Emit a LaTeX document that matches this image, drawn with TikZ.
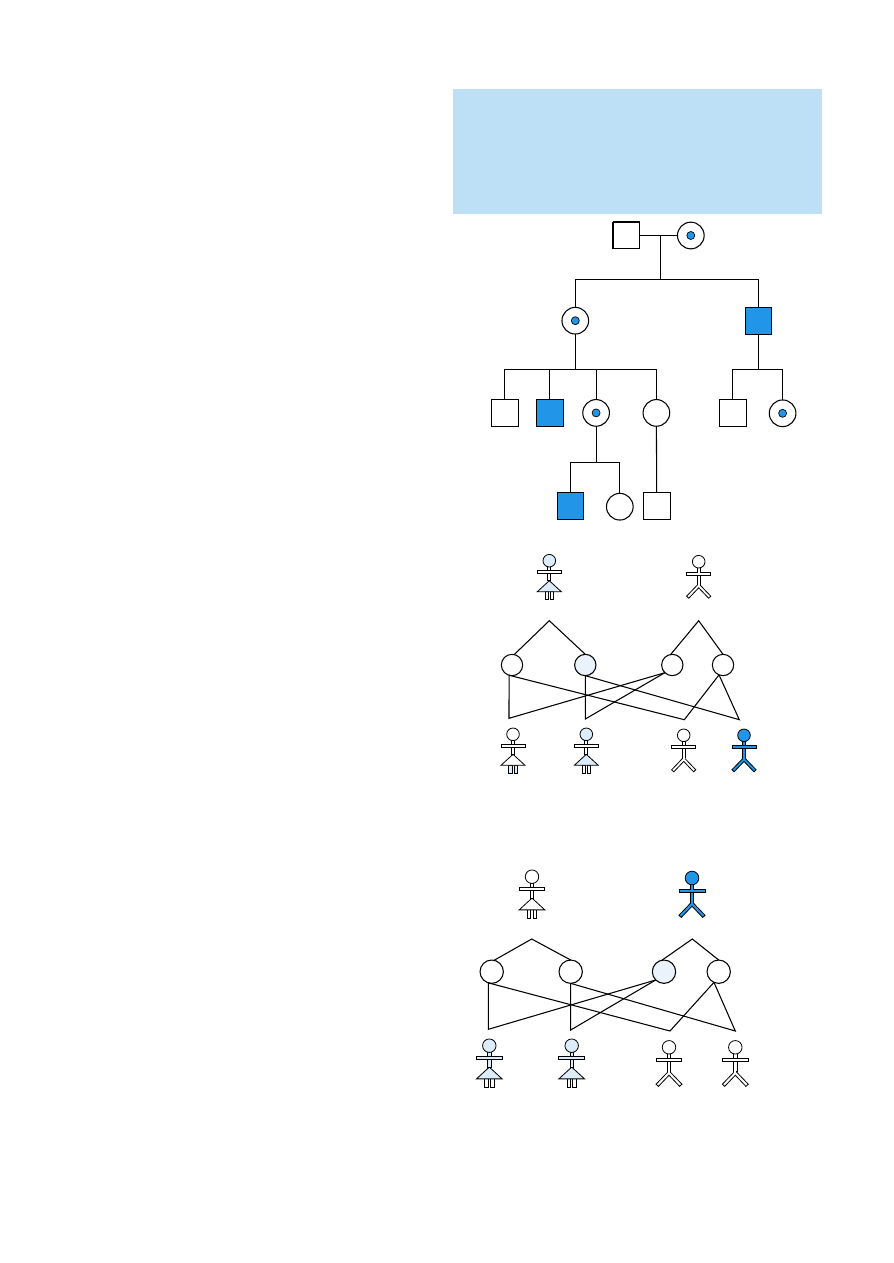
\documentclass[tikz,border=0pt]{standalone}
\definecolor{panelblue}{HTML}{BEE0F7}
\definecolor{geneblue}{HTML}{2196E8}
\definecolor{paleblue}{HTML}{DDECFA}
\definecolor{paleallele}{HTML}{EAF3FB}
\tikzset{
  lin/.style={line width=0.8pt,line join=miter},
  figlin/.style={line width=0.6pt,line join=miter},
  male/.style={draw,lin,rectangle,minimum size=20pt,inner sep=0pt,outer sep=0pt,fill=white},
  female/.style={draw,lin,circle,minimum size=20pt,inner sep=0pt,outer sep=0pt,fill=white},
  carrierdot/.style={draw,line width=0.5pt,circle,minimum size=6pt,inner sep=0pt,fill=geneblue},
  allele/.style={draw,lin,circle,inner sep=0pt,outer sep=0pt,fill=white},
  allelea/.style={allele,minimum size=16pt},
  alleleb/.style={allele,minimum size=17.5pt}
}
% girl figure: x, y, scale, head and skirt, arms and body, legs
\newcommand{\girlfig}[6]{
  \begin{scope}[shift={(#1,#2)},scale=#3]
    \draw[figlin,fill=#6] (-4.3,31) rectangle (-1.1,39);
    \draw[figlin,fill=#6] (1.1,31) rectangle (4.3,39);
    \draw[figlin,fill=#4] (-12,31) -- (0,20) -- (12,31) -- cycle;
    \draw[figlin,fill=#5] (-1.5,5) rectangle (1.5,20);
    \draw[figlin,fill=#5] (-12,10.1) rectangle (12,13.1);
    \fill[#5] (-1.1,10.5) rectangle (1.1,12.7);
    \draw[figlin,fill=#4] (0,0) circle (6.3);
  \end{scope}}
% boy figure: x, y, scale, colour
\newcommand{\boyfig}[4]{
  \begin{scope}[shift={(#1,#2)},scale=#3]
    \draw[figlin,fill=#4] (0,21.9) -- (12.1,34.5) -- (9.9,36.5) -- (0,26.1) -- (-9.9,36.5) -- (-12.1,34.5) -- cycle;
    \draw[figlin,fill=#4] (-1.5,5) rectangle (1.5,22.5);
    \fill[#4] (-1.1,22) rectangle (1.1,24.5);
    \draw[figlin,fill=#4] (-12,10.2) rectangle (12,13.4);
    \fill[#4] (-1.1,10.6) rectangle (1.1,13);
    \draw[figlin,fill=#4] (0,0) circle (6.3);
  \end{scope}}
\begin{document}
\begin{tikzpicture}[x=0.75pt,y=-0.75pt]
  \useasboundingbox (0,0) rectangle (893,1263);
  % panel
  \fill[panelblue] (453,89) rectangle (822,214);
  % pedigree
  \node[male] (father) at (626.3,235.5) {};
  \node[female] (mother) at (690.8,235.5) {};
  \node[carrierdot] (motherdot) at (mother) {};
  \node[female] (daughter) at (575.3,320.7) {};
  \node[carrierdot] (daughterdot) at (daughter) {};
  \node[male,fill=geneblue] (son) at (758.5,320.7) {};
  \node[male] (gthree1) at (504.7,412.9) {};
  \node[male,fill=geneblue] (gthree2) at (549.7,412.9) {};
  \node[female] (gthree3) at (596.1,412.9) {};
  \node[carrierdot] (gthree3dot) at (gthree3) {};
  \node[female] (gthree4) at (656.4,412.9) {};
  \node[male] (gthree5) at (732.7,412.9) {};
  \node[female] (gthree6) at (782.6,413.3) {};
  \node[carrierdot] (gthree6dot) at (gthree6) {};
  \node[male,fill=geneblue] (gfour1) at (570.5,506) {};
  \node[female] (gfour2) at (619.8,506.7) {};
  \node[male] (gfour3) at (656.7,506) {};
  \coordinate (couple) at (660.3,235.5);
  \coordinate (busa) at (660.3,279.3);
  \coordinate (busb) at (575.3,369.3);
  \coordinate (busc) at (758.5,369.3);
  \coordinate (busd) at (596.1,462.7);
  \draw[line width=1.4pt] (father.north west) -- (father.north east);
  \draw[lin] (father) -- (mother);
  \draw[lin] (couple) -- (busa);
  \draw[lin] (busa) -| (daughter.north);
  \draw[lin] (busa) -| (son.north);
  \draw[lin] (daughter) -- (busb);
  \draw[lin] (son) -- (busc);
  \draw[lin] (busb) -| (gthree1.north);
  \draw[lin] (busb) -| (gthree2.north);
  \draw[lin] (busb) -| (gthree3.north);
  \draw[lin] (busb) -| (gthree4.north);
  \draw[lin] (busc) -| (gthree5.north);
  \draw[lin] (busc) -| (gthree6.north);
  \draw[lin] (gthree3) -- (busd);
  \draw[lin] (busd) -| (gfour1.north);
  \draw[lin] (busd) -| (gfour2.north);
  \draw[lin] (gthree4.south) -- (gfour3.north);
  % first cross
  \girlfig{549.3}{560.7}{1}{paleblue}{white}{white}
  \boyfig{698.7}{561.7}{1}{white}
  \node[allelea] (aa) at (512,665) {};
  \node[allelea,fill=paleallele] (ab) at (585.3,665) {};
  \node[allelea] (ac) at (672.3,665) {};
  \node[allelea] (ad) at (723,665) {};
  \coordinate (atopl) at (549.3,620.7);
  \coordinate (atopr) at (698.7,620.7);
  \coordinate (akida) at (509,718.3);
  \coordinate (akidb) at (585.3,719);
  \coordinate (akidc) at (684.3,719.7);
  \coordinate (akidd) at (739.3,719.7);
  \draw[lin] (aa.78) -- (atopl) -- (ab.90);
  \draw[lin] (ac.99) -- (atopr) -- (ad.90);
  \draw[lin] (aa.-106) -- (akida) -- (ac.-134);
  \draw[lin] (ab.-90) -- (akidb) -- (ac.-134);
  \draw[lin] (aa.-106) -- (akidc) -- (ad.-112);
  \draw[lin] (ab.-90) -- (akidd) -- (ad.-112);
  \girlfig{513}{734.3}{1}{white}{white}{paleblue}
  \girlfig{586.3}{734.3}{1}{paleblue}{white}{white}
  \boyfig{683.7}{735.3}{1}{white}
  \boyfig{744}{735.3}{1}{geneblue}
  % second cross
  \girlfig{532}{876.7}{1.07}{white}{white}{white}
  \boyfig{692}{878}{1.08}{geneblue}
  \node[alleleb] (ba) at (491.7,971.7) {};
  \node[alleleb] (bb) at (570.7,971.7) {};
  \node[alleleb,fill=paleallele] (bc) at (664,971.7) {};
  \node[alleleb] (bd) at (718.7,971.7) {};
  \coordinate (btopl) at (531.7,939);
  \coordinate (btopr) at (692.3,939);
  \coordinate (bkida) at (488.3,1029.3);
  \coordinate (bkidb) at (570.7,1030);
  \coordinate (bkidc) at (670,1031);
  \coordinate (bkidd) at (735.3,1031);
  \draw[lin] (ba.78) -- (btopl) -- (bb.90);
  \draw[lin] (bc.100) -- (btopr) -- (bd.90);
  \draw[lin] (ba.-107) -- (bkida) -- (bc.-135);
  \draw[lin] (bb.-90) -- (bkidb) -- (bc.-135);
  \draw[lin] (ba.-107) -- (bkidc) -- (bd.-114);
  \draw[lin] (bb.-90) -- (bkidd) -- (bd.-114);
  \girlfig{489.3}{1045.7}{1.07}{paleblue}{paleblue}{white}
  \girlfig{571.7}{1045.7}{1.07}{paleblue}{paleblue}{white}
  \boyfig{669}{1047.3}{1.07}{white}
  \boyfig{735.3}{1047.3}{1.07}{white}
\end{tikzpicture}
\end{document}
